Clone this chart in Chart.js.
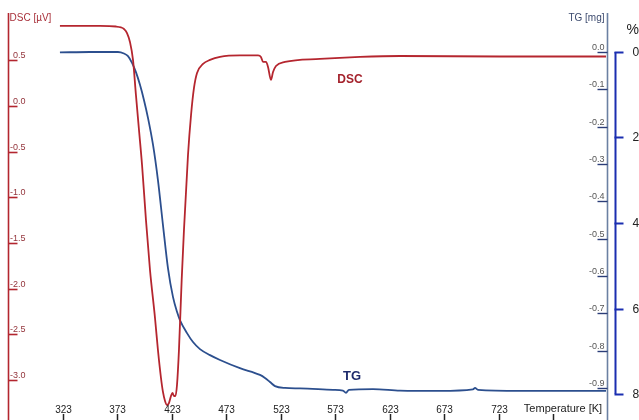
<!DOCTYPE html>
<html>
<head>
<meta charset="utf-8">
<script src="https://cdn.jsdelivr.net/npm/chart.js@4.4.1/dist/chart.umd.min.js"></script>
<style>
  html, body { margin: 0; padding: 0; background: #fff; }
  canvas { display: block; }
</style>
</head>
<body>
<canvas id="tga-chart" width="639" height="420"></canvas>
<script>
// DSC curve: temperature [K] and signal [µV]
var dscTemp = [320.2, 357.0, 371.7, 376.3, 379.0, 381.8, 384.5, 387.3, 390.0, 392.8, 395.6, 399.2, 402.9, 407.5, 410.2, 413.0,
	414.8, 416.7, 418.5, 420.3, 422.2, 423.6, 424.9, 426.3, 427.7, 429.5, 432.0, 434.1, 437.8, 440.6, 443.3, 446.1,
	451.6, 458.0, 467.2, 485.5, 502.1, 504.8, 506.7, 509.4, 511.3, 514.0, 515.9, 518.6, 526.9, 559.0, 595.8, 632.5,
	724.3, 821.7];
var dscValue = [0.876, 0.876, 0.870, 0.860, 0.843, 0.799, 0.701, 0.504, 0.120, -0.263, -0.646, -1.248, -1.796, -2.321, -2.672, -2.978,
	-3.131, -3.230, -3.274, -3.252, -3.175, -3.142, -3.175, -3.175, -3.055, -2.672, -1.905, -1.358, -0.537, -0.099, 0.197, 0.361,
	0.460, 0.504, 0.537, 0.553, 0.553, 0.537, 0.482, 0.482, 0.427, 0.285, 0.372, 0.438, 0.482, 0.515, 0.537, 0.547,
	0.542, 0.542];

// TG curve: temperature [K] and mass change [mg]
var tgTemp = [320.2, 347.8, 373.5, 379.0, 382.7, 386.4, 390.0, 393.7, 397.4, 401.1, 405.7, 410.2, 414.8, 419.4, 424.0, 427.7,
	430.4, 436.9, 442.4, 448.8, 458.0, 467.2, 485.5, 503.9, 508.5, 513.1, 517.7, 526.9, 540.7, 571.0, 580.1, 582.9,
	585.6, 607.7, 632.5, 669.2, 699.5, 701.4, 704.1, 742.7, 821.7];
var tgValue = [-0.001, 0.000, 0.000, -0.004, -0.011, -0.029, -0.054, -0.088, -0.129, -0.177, -0.249, -0.343, -0.463, -0.579, -0.656, -0.696,
	-0.718, -0.753, -0.777, -0.796, -0.812, -0.825, -0.847, -0.865, -0.873, -0.884, -0.895, -0.900, -0.901, -0.905, -0.907, -0.913,
	-0.905, -0.903, -0.907, -0.908, -0.904, -0.900, -0.905, -0.908, -0.908];

// tick labels
var tempTicks = [323, 373, 423, 473, 523, 573, 623, 673, 723, 773];
var dscTicks = [0.5, 0.0, -0.5, -1.0, -1.5, -2.0, -2.5, -3.0];
var tgTicks = [0.0, -0.1, -0.2, -0.3, -0.4, -0.5, -0.6, -0.7, -0.8, -0.9];
var pctTicks = [0, 2, 4, 6, 8];

var FONT = '"Liberation Sans", Arial, sans-serif';

function pts(xs, ys) {
	return xs.map((x, i) => ({ x: x, y: ys[i] }));
}

// axes are drawn by hand, the chart keeps its scales hidden
var thermoAxes = {
	id: 'thermoAxes',
	afterDraw(chart) {
		var c = chart.ctx;
		var area = chart.chartArea;
		var sx = chart.scales.x, sd = chart.scales.yDsc, st = chart.scales.yTg, sp = chart.scales.yPct;
		c.save();

		// left DSC axis
		var lx = area.left + 0.5;
		c.strokeStyle = '#b3262f';
		c.lineWidth = 1.6;
		c.beginPath(); c.moveTo(lx, area.top); c.lineTo(lx, 420); c.stroke();
		c.font = '9px ' + FONT;
		c.fillStyle = '#93343b';
		c.textAlign = 'right';
		c.textBaseline = 'bottom';
		dscTicks.forEach(v => {
			var py = Math.round(sd.getPixelForValue(v)) + 0.5;
			c.beginPath(); c.moveTo(lx, py); c.lineTo(lx + 9, py); c.stroke();
			c.fillText(v.toFixed(1), lx + 17, py);
		});
		c.font = '10px ' + FONT;
		c.textAlign = 'left';
		c.textBaseline = 'middle';
		c.fillStyle = '#a8303a';
		c.fillText('DSC [µV]', lx + 1, 18);

		// right TG axis (mg)
		var rx = area.right + 0.5;
		c.strokeStyle = '#6b80a2';
		c.lineWidth = 1.6;
		c.beginPath(); c.moveTo(rx, area.top); c.lineTo(rx, 420); c.stroke();
		c.font = '9px ' + FONT;
		c.fillStyle = '#555';
		c.textAlign = 'right';
		c.textBaseline = 'bottom';
		tgTicks.forEach(v => {
			var py = Math.round(st.getPixelForValue(v)) + 0.5;
			c.strokeStyle = '#2b3d78';
			c.lineWidth = 1.4;
			c.beginPath(); c.moveTo(rx - 10, py); c.lineTo(rx, py); c.stroke();
			c.fillText(v.toFixed(1), rx - 3, py);
		});
		c.font = '10px ' + FONT;
		c.fillStyle = '#3c4a6e';
		c.textBaseline = 'middle';
		c.fillText('TG [mg]', rx - 3, 18);

		// percent axis
		var px = rx + 8;
		var p0 = sp.getPixelForValue(pctTicks[0]), p1 = sp.getPixelForValue(pctTicks[pctTicks.length - 1]);
		c.strokeStyle = '#1b2eb0';
		c.lineWidth = 2;
		c.beginPath(); c.moveTo(px, p0); c.lineTo(px, p1); c.stroke();
		c.font = '12px ' + FONT;
		c.fillStyle = '#222';
		c.textAlign = 'left';
		pctTicks.forEach(v => {
			var py = Math.round(sp.getPixelForValue(v)) + 0.5;
			c.beginPath(); c.moveTo(px - 1, py); c.lineTo(px + 8, py); c.stroke();
			c.fillText(String(v), px + 17, py);
		});
		c.font = '14px ' + FONT;
		c.fillText('%', px + 11, 30);

		// temperature axis along the bottom edge
		c.strokeStyle = '#222';
		c.lineWidth = 1.5;
		c.font = '10px ' + FONT;
		c.textAlign = 'center';
		c.fillStyle = '#222';
		tempTicks.forEach((t, i) => {
			var tx = Math.round(sx.getPixelForValue(t)) + 0.5;
			c.beginPath(); c.moveTo(tx, 414); c.lineTo(tx, 420); c.stroke();
			if (i < tempTicks.length - 1) c.fillText(String(t), tx, 410);
		});
		c.font = '11px ' + FONT;
		c.fillText('Temperature [K]', sx.getPixelForValue(773) + 10, 409);

		// curve names
		c.font = 'bold 12px ' + FONT;
		c.fillStyle = '#a4222c';
		c.fillText('DSC', 350, 80);
		c.font = 'bold 13px ' + FONT;
		c.fillStyle = '#1e2b6c';
		c.fillText('TG', 352, 376);

		c.restore();
	}
};

new Chart(document.getElementById('tga-chart'), {
	type: 'line',
	data: {
		datasets: [{
			label: 'DSC',
			data: pts(dscTemp, dscValue),
			yAxisID: 'yDsc',
			borderColor: '#b5262f',
			borderWidth: 1.8,
			pointRadius: 0,
			cubicInterpolationMode: 'monotone',
		}, {
			label: 'TG',
			data: pts(tgTemp, tgValue),
			yAxisID: 'yTg',
			borderColor: '#2c4f8e',
			borderWidth: 1.8,
			pointRadius: 0,
			cubicInterpolationMode: 'monotone',
		}],
	},
	options: {
		responsive: false,
		animation: false,
		events: [],
		layout: {
			padding: { left: 8, right: 32, top: 13, bottom: 0 }
		},
		scales: {
			x: { type: 'linear', display: false, min: 272.5, max: 822.6 },
			yDsc: { type: 'linear', display: false, min: -3.438, max: 1.018 },
			yTg: { type: 'linear', display: false, min: -0.9858, max: 0.1045 },
			yPct: { type: 'linear', display: false, reverse: true, min: -0.912, max: 8.608 },
		},
		plugins: {
			legend: { display: false },
			tooltip: { enabled: false },
		}
	},
	plugins: [thermoAxes]
});
</script>
</body>
</html>
